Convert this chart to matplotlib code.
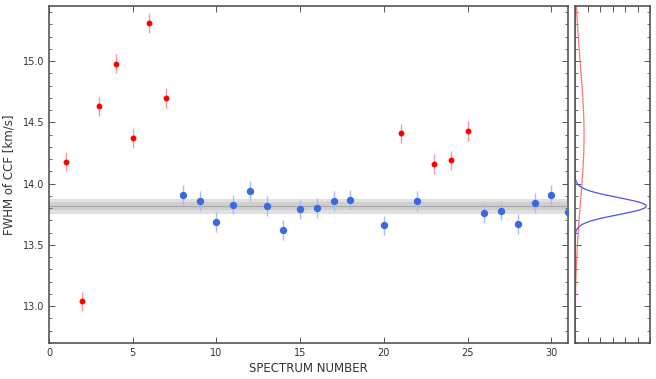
import numpy as np
import matplotlib
matplotlib.use('Agg')
import matplotlib.pyplot as plt
from matplotlib.ticker import MultipleLocator, NullFormatter

# outliers (red) and accepted spectra (blue)
red_x = [1, 2, 3, 4, 5, 6, 7, 21, 23, 24, 25]
red_y = [14.18, 13.04, 14.63, 14.98, 14.37, 15.31, 14.70, 14.41, 14.16, 14.19, 14.43]
red_err = [0.08] * len(red_x)

blue_x = [8, 9, 10, 11, 12, 13, 14, 15, 16, 17, 18, 20, 22, 26, 27, 28, 29, 30, 31]
blue_y = [13.91, 13.86, 13.685, 13.83, 13.94, 13.82, 13.62, 13.79, 13.80, 13.86,
          13.87, 13.66, 13.86, 13.76, 13.78, 13.67, 13.84, 13.91, 13.77]
blue_err = [0.08] * len(blue_x)

# mean level and its bands
mean_level = 13.817
band_outer = (13.756, 13.878)
band_inner = (13.783, 13.851)

# gaussian summaries shown in the side panel
red_mu, red_sigma = 14.40, 0.55
blue_mu, blue_sigma = 13.817, 0.070

grey = '#555555'
plt.rcParams['font.family'] = 'DejaVu Sans'
plt.rcParams['text.color'] = '#333333'
plt.rcParams['axes.labelcolor'] = '#333333'
plt.rcParams['xtick.color'] = grey
plt.rcParams['ytick.color'] = grey
plt.rcParams['xtick.labelcolor'] = '#333333'
plt.rcParams['ytick.labelcolor'] = '#333333'

fig = plt.figure(figsize=(6.56, 3.79), dpi=100)
ax = fig.add_axes([49/656, 1 - 343/379, (568 - 49)/656, (343 - 6)/379])
ax2 = fig.add_axes([575/656, 1 - 343/379, (650 - 575)/656, (343 - 6)/379])

ax.axhspan(*band_outer, color='#bbbbbb', alpha=0.45, lw=0, zorder=1)
ax.axhspan(*band_inner, color='#bbbbbb', alpha=0.45, lw=0, zorder=1)
ax.axhline(mean_level, color='#aaaaaa', lw=0.8, zorder=1)

ax.errorbar(red_x, red_y, yerr=red_err, fmt='o', color='red', ms=3.2, mec='red',
            ecolor='#ff9999', elinewidth=1, capsize=0, zorder=3)
ax.errorbar(blue_x, blue_y, yerr=blue_err, fmt='o', color='#3b6ae0', ms=4.3, mec='#3b6ae0',
            ecolor='#a9bdf0', elinewidth=1, capsize=0, zorder=3)

ax.set_xlim(0, 31)
ax.set_ylim(12.7, 15.45)
ax.xaxis.set_major_locator(MultipleLocator(5))
ax.yaxis.set_major_locator(MultipleLocator(0.5))
ax.yaxis.set_minor_locator(MultipleLocator(0.1))
ax.set_xlabel('SPECTRUM NUMBER', fontsize=8.5, labelpad=3)
ax.set_ylabel('FWHM of CCF [km/s]', fontsize=8.5, labelpad=5)

yy = np.linspace(12.7, 15.45, 600)
red_pdf = np.exp(-0.5 * ((yy - red_mu) / red_sigma) ** 2) / (red_sigma * np.sqrt(2 * np.pi))
blue_pdf = np.exp(-0.5 * ((yy - blue_mu) / blue_sigma) ** 2) / (blue_sigma * np.sqrt(2 * np.pi))
ax2.plot(red_pdf, yy, color='#ff7777', lw=0.9)
ax2.plot(blue_pdf, yy, color='#5050ee', lw=0.9)
ax2.set_xlim(0, 6)
ax2.set_ylim(12.7, 15.45)
ax2.xaxis.set_major_locator(MultipleLocator(1))
ax2.yaxis.set_major_locator(MultipleLocator(0.5))
ax2.yaxis.set_minor_locator(MultipleLocator(0.1))
ax2.xaxis.set_major_formatter(NullFormatter())
ax2.yaxis.set_major_formatter(NullFormatter())

for a in (ax, ax2):
    for s in a.spines.values():
        s.set_color(grey)
        s.set_linewidth(1.2)
    a.tick_params(which='both', direction='in', top=True, right=True, labelsize=7)
    a.tick_params(which='major', length=4, width=0.7)
    a.tick_params(which='minor', length=2, width=0.6)

fig.savefig('out.png', dpi=100)
